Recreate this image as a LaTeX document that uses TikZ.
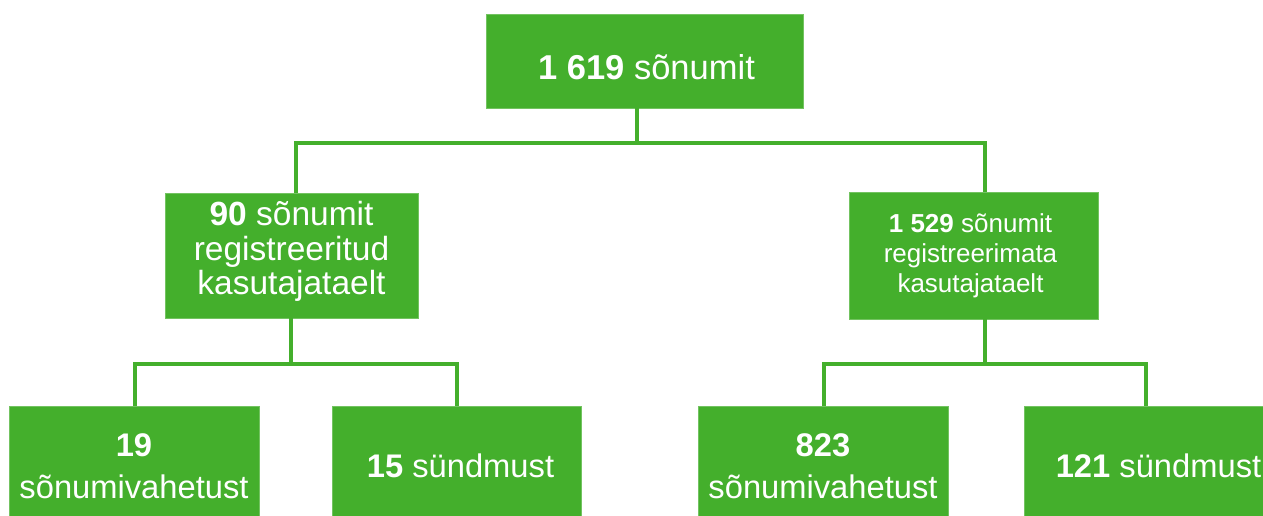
\documentclass[tikz,border=0pt]{standalone}
\usepackage{fontspec}
\setmainfont{Liberation Sans}
\definecolor{boxgreen}{RGB}{68,175,44}
\tikzset{
  gbox/.style={rectangle, fill=boxgreen, draw=boxgreen!75!white, line width=0.8pt, inner sep=0pt},
  txt/.style={text=white, align=center, inner sep=0pt},
  conn/.style={draw=boxgreen, line width=4pt, line join=miter},
}
\begin{document}
\begin{tikzpicture}[x=1pt,y=-1pt]
\useasboundingbox (0,0) rectangle (1263,516);
\clip (0,0) rectangle (1263,516);
% boxes
\node[gbox, minimum width=317pt, minimum height=94pt] (top) at (644.5,61) {};
\node[gbox, minimum width=253pt, minimum height=125pt] (ml) at (291.5,255.5) {};
\node[gbox, minimum width=249pt, minimum height=127pt] (mr) at (973.5,255.5) {};
\node[gbox, minimum width=250pt, minimum height=120pt] (b1) at (134,466) {};
\node[gbox, minimum width=249pt, minimum height=120pt] (b2) at (456.5,466) {};
\node[gbox, minimum width=250pt, minimum height=120pt] (b3) at (823,466) {};
\node[gbox, minimum width=250pt, minimum height=120pt] (b4) at (1149,466) {};
% texts
\node[txt, font={\fontsize{34.5}{40}\selectfont}] (top-t) at ([shift={(2,6)}]top.center)
  {\textbf{1 619} sõnumit};
\node[txt, font={\fontsize{33.5}{34.5}\selectfont}] (ml-t) at ([shift={(0,-4)}]ml.center)
  {\textbf{90} sõnumit\\registreeritud\\kasutajataelt};
\node[txt, font={\fontsize{26}{30}\selectfont}] (mr-t) at ([shift={(-3,0)}]mr.center)
  {\textbf{1 529} sõnumit\\registreerimata\\kasutajataelt};
\node[txt, font={\fontsize{32.7}{42}\selectfont}] (b1-t) at (b1.center)
  {\textbf{19}\\sõnumivahetust};
\node[txt, font={\fontsize{32.7}{42}\selectfont}] (b2-t) at ([shift={(4,0)}]b2.center)
  {\textbf{15} sündmust};
\node[txt, font={\fontsize{32.7}{42}\selectfont}] (b3-t) at (b3.center)
  {\textbf{823}\\sõnumivahetust};
\node[txt, font={\fontsize{32.7}{42}\selectfont}] (b4-t) at ([shift={(9.5,0)}]b4.center)
  {\textbf{121} sündmust};
% junction coordinates
\coordinate (j0) at (637,143);
\coordinate (hl) at (296,143);
\coordinate (hr) at (985,143);
\coordinate (bl) at (291,364);
\coordinate (bll) at (135,364);
\coordinate (blr) at (457,364);
\coordinate (br) at (985,364);
\coordinate (brl) at (824,364);
\coordinate (brr) at (1146,364);
% connectors
\draw[conn] (top.south -| j0) -- (j0);
\draw[conn] (ml.north -| hl) -- (hl) -- (hr) -- (mr.north -| hr);
\draw[conn] (ml.south -| bl) -- (bl);
\draw[conn] (b1.north -| bll) -- (bll) -- (blr) -- (b2.north -| blr);
\draw[conn] (mr.south -| br) -- (br);
\draw[conn] (b3.north -| brl) -- (brl) -- (brr) -- (b4.north -| brr);
\end{tikzpicture}
\end{document}
